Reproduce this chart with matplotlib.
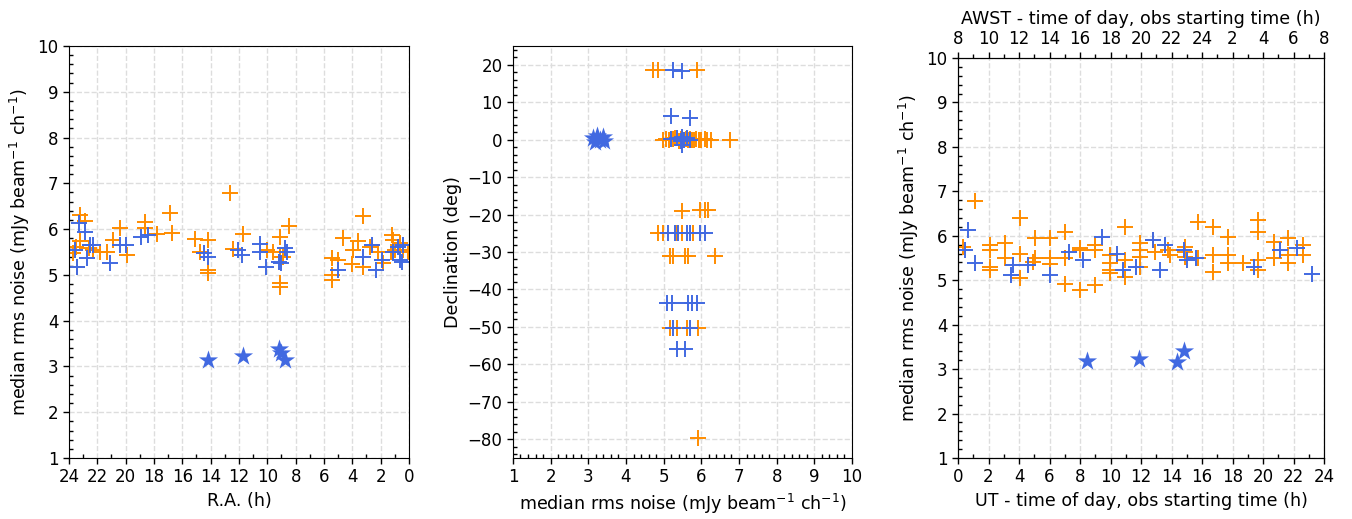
import matplotlib
matplotlib.use("Agg")
import matplotlib.pyplot as plt
from matplotlib.ticker import MultipleLocator

BLUE = "#4169E1"
ORANGE = "#FF8C00"

# ---------------- Left panel: noise vs R.A. ----------------
ra_orange = [23.2, 22.9, 23.7, 23.4, 23.2, 22.3, 21.8, 21.3, 20.9, 20.4, 19.9, 18.6, 18.6,
             17.8, 16.9, 16.7, 15.1, 14.2, 14.75, 14.2, 14.2, 12.6, 11.75, 12.4, 10.05, 9.6,
             9.1, 9.1, 8.9, 9.1, 9.1, 8.45, 5.45, 5.0, 5.45, 5.45, 4.64, 4.05, 3.95, 3.6, 3.23,
             3.27, 2.76, 2.2, 1.8, 1.22, 1.1, 1.3, 1.0, 0.64, 0.4, 0.1, 23.5, 22.6]
noise_orange_ra = [6.31, 6.18, 5.48, 5.17, 5.73, 5.54, 5.5, 5.5, 5.76, 6.02, 5.43, 6.16, 6.03,
                   5.89, 6.36, 5.92, 5.78, 5.76, 5.51, 5.1, 5.04, 6.78, 5.9, 5.56, 5.55, 5.5,
                   5.83, 5.4, 5.4, 4.82, 4.74, 6.07, 5.37, 5.33, 5.0, 4.88, 5.8, 5.24, 5.54, 5.73,
                   6.29, 5.18, 5.62, 5.5, 5.25, 5.87, 5.76, 5.5, 5.55, 5.7, 5.55, 5.5, 5.62, 5.58]
ra_blue = [23.3, 22.9, 23.6, 23.4, 22.75, 22.5, 22.3, 21.1, 20.4, 20.0, 18.9, 18.4, 14.5,
           14.2, 12.05, 11.8, 10.5, 10.5, 10.1, 9.15, 8.75, 8.6, 9.0, 5.0, 3.23, 2.64, 2.3,
           1.93, 1.1, 0.76, 0.4, 0.6, 0.5]
noise_blue_ra = [6.13, 5.94, 5.54, 5.17, 5.37, 5.65, 5.65, 5.25, 5.65, 5.65, 5.83, 5.87, 5.47,
                 5.39, 5.54, 5.43, 5.67, 5.5, 5.18, 5.29, 5.58, 5.5, 5.25, 5.1, 5.4, 5.65, 5.1,
                 5.32, 5.5, 5.62, 5.65, 5.32, 5.28]
ra_star = [14.2, 11.75, 9.2, 9.0, 8.75]
noise_star_ra = [3.14, 3.22, 3.38, 3.30, 3.14]

# ---------------- Middle panel: declination vs noise ----------------
noise_orange_dec = [4.72, 4.86, 5.88,
                    4.98, 5.05, 5.15, 5.25, 5.3, 5.4, 5.45, 5.5, 5.55, 5.6, 5.65, 5.7, 5.75,
                    5.8, 5.85, 5.95, 6.0, 6.1, 6.15, 6.25, 6.76,
                    5.48, 5.96, 6.1, 6.18,
                    4.85, 4.98, 5.35, 5.48, 5.78,
                    5.17, 5.25, 5.57, 5.65, 6.36,
                    5.17, 5.35, 5.61, 5.91,
                    5.92]
dec_orange = [18.5, 18.5, 18.5,
              0.0, 0.3, -0.2, 0.1, 0.4, -0.3, 0.2, 0.0, -0.2, 0.3, 0.0, 0.1, -0.2,
              0.0, 0.2, -0.1, 0.0, 0.1, 0.0, 0.0, 0.0,
              -19.0, -18.7, -18.7, -18.7,
              -25.0, -25.0, -25.0, -25.0, -25.0,
              -31.2, -31.2, -31.2, -31.2, -31.2,
              -50.3, -50.3, -50.3, -50.3,
              -79.6]
noise_blue_dec = [5.26, 5.48, 5.19, 5.70,
                  5.2, 5.35, 5.45, 5.5, 5.55, 5.62, 5.7, 5.5,
                  5.12, 5.3, 5.38, 5.62, 5.7, 5.96, 6.1,
                  5.08, 5.21, 5.65, 5.74, 5.88,
                  5.25, 5.7,
                  5.35, 5.57]
dec_blue = [18.5, 18.3, 6.4, 5.8,
            0.3, 0.5, -0.3, 0.8, 0.0, 0.4, -0.2, -1.5,
            -24.8, -24.8, -24.8, -24.8, -24.8, -24.8, -24.8,
            -43.6, -43.6, -43.6, -43.6, -43.6,
            -50.3, -50.3,
            -56.0, -56.0]
noise_star_dec = [3.12, 3.18, 3.24, 3.3, 3.38, 3.42]
dec_star = [0.5, -0.5, 1.0, 0.0, 0.8, -0.3]

# ---------------- Right panel: noise vs UT ----------------
ut_orange = [1.11, 0.35, 2.1, 2.1, 2.1, 2.1, 3.08, 3.08, 4.07, 4.07, 4.07, 5.05, 5.05, 4.9,
             6.03, 6.03, 6.03, 7.0, 7.0, 7.0, 8.0, 8.0, 8.0, 8.98, 8.98, 8.98, 9.97, 9.97,
             9.97, 9.97, 10.95, 10.95, 10.95, 11.93, 11.93, 11.93, 11.93, 12.8, 12.9, 13.8,
             13.9, 14.9, 14.9, 14.9, 15.76, 15.76, 16.7, 16.7, 16.7, 17.7, 17.7, 17.7, 18.7,
             19.7, 19.7, 19.7, 19.7, 20.7, 20.7, 21.66, 21.66, 21.66, 22.64, 22.64]
noise_orange_ut = [6.79, 5.75, 5.79, 5.68, 5.30, 5.23, 5.83, 5.49, 6.39, 5.6, 5.04, 5.94, 5.49,
                   5.42, 5.94, 5.49, 5.36, 6.09, 5.51, 4.91, 5.72, 5.68, 4.78, 5.79, 5.68,
                   4.89, 5.57, 5.38, 5.23, 5.16, 6.2, 5.46, 5.08, 5.83, 5.68, 5.53, 5.30, 5.9,
                   5.64, 5.68, 5.57, 5.75, 5.64, 5.53, 6.32, 5.49, 6.2, 5.57, 5.19, 5.98, 5.57,
                   5.38, 5.38, 6.36, 6.09, 5.46, 5.23, 5.87, 5.49, 5.94, 5.57, 5.38, 5.79, 5.57]
ut_blue = [0.68, 0.46, 1.11, 3.6, 3.5, 4.6, 6.03, 7.3, 8.2, 9.42, 10.4, 10.8, 11.7, 12.8,
           13.25, 13.6, 14.8, 15.0, 15.6, 19.4, 21.1, 22.2, 23.2]
noise_blue_ut = [6.13, 5.68, 5.38, 5.34, 5.12, 5.34, 5.12, 5.64, 5.46, 5.98, 5.6, 5.23, 5.3,
                 5.9, 5.23, 5.79, 5.68, 5.46, 5.49, 5.30, 5.68, 5.72, 5.14]
ut_star = [8.44, 11.87, 14.34, 14.84]
noise_star_ut = [3.19, 3.23, 3.17, 3.41]

awst_labels = ["8", "10", "12", "14", "16", "18", "20", "22", "24", "2", "4", "6", "8"]

YLABEL = r"median rms noise (mJy beam$^{-1}$ ch$^{-1}$)"

plt.rcParams["font.family"] = "DejaVu Sans"
plt.rcParams["font.size"] = 12
LABEL_FS = 12.6

fig = plt.figure(figsize=(13.52, 5.19), dpi=100)
ax1 = fig.add_axes([0.051, 0.1175, 0.2515, 0.7939])
ax2 = fig.add_axes([0.3794, 0.1175, 0.2508, 0.7939])
ax3 = fig.add_axes([0.7086, 0.1175, 0.2707, 0.7707])

cross_kw = dict(marker="+", s=120, linewidths=1.4)
star_kw = dict(marker="*", s=210, color=BLUE, linewidths=0)


def style(ax):
    ax.grid(True, which="major", linestyle="--", color="#dddddd", linewidth=1.0)
    ax.set_axisbelow(True)
    ax.tick_params(which="major", direction="out", length=4, width=1, labelsize=12)
    ax.tick_params(which="minor", direction="in", length=3, width=1)


# left
ax1.scatter(ra_orange, noise_orange_ra, color=ORANGE, **cross_kw)
ax1.scatter(ra_blue, noise_blue_ra, color=BLUE, **cross_kw)
ax1.scatter(ra_star, noise_star_ra, **star_kw)
ax1.set_xlim(24, 0)
ax1.set_ylim(1, 10)
ax1.xaxis.set_major_locator(MultipleLocator(2))
ax1.xaxis.set_minor_locator(MultipleLocator(1))
ax1.yaxis.set_major_locator(MultipleLocator(1))
ax1.yaxis.set_minor_locator(MultipleLocator(0.2))
ax1.set_xlabel("R.A. (h)", fontsize=LABEL_FS)
ax1.set_ylabel(YLABEL, fontsize=LABEL_FS)
style(ax1)

# middle
ax2.scatter(noise_orange_dec, dec_orange, color=ORANGE, **cross_kw)
ax2.scatter(noise_blue_dec, dec_blue, color=BLUE, **cross_kw)
ax2.scatter(noise_star_dec, dec_star, **star_kw)
ax2.set_xlim(1, 10)
ax2.set_ylim(-85, 25)
ax2.xaxis.set_major_locator(MultipleLocator(1))
ax2.xaxis.set_minor_locator(MultipleLocator(0.2))
ax2.yaxis.set_major_locator(MultipleLocator(10))
ax2.yaxis.set_minor_locator(MultipleLocator(2))
ax2.set_xlabel(YLABEL, fontsize=LABEL_FS)
ax2.set_ylabel("Declination (deg)", fontsize=LABEL_FS)
style(ax2)

# right
ax3.scatter(ut_orange, noise_orange_ut, color=ORANGE, **cross_kw)
ax3.scatter(ut_blue, noise_blue_ut, color=BLUE, **cross_kw)
ax3.scatter(ut_star, noise_star_ut, **star_kw)
ax3.set_xlim(0, 24)
ax3.set_ylim(1, 10)
ax3.xaxis.set_major_locator(MultipleLocator(2))
ax3.xaxis.set_minor_locator(MultipleLocator(1))
ax3.yaxis.set_major_locator(MultipleLocator(1))
ax3.yaxis.set_minor_locator(MultipleLocator(0.2))
ax3.set_xlabel("UT - time of day, obs starting time (h)", fontsize=LABEL_FS)
ax3.set_ylabel(YLABEL, fontsize=LABEL_FS)
style(ax3)

top = ax3.twiny()
top.set_xlim(0, 24)
top.set_xticks(range(0, 25, 2))
top.set_xticklabels(awst_labels)
top.xaxis.set_minor_locator(MultipleLocator(1))
top.tick_params(which="major", direction="out", length=4, width=1, labelsize=12)
top.tick_params(which="minor", direction="out", length=3, width=1)
top.set_xlabel("AWST - time of day, obs starting time (h)", fontsize=LABEL_FS)

fig.savefig("out.png", dpi=100)
